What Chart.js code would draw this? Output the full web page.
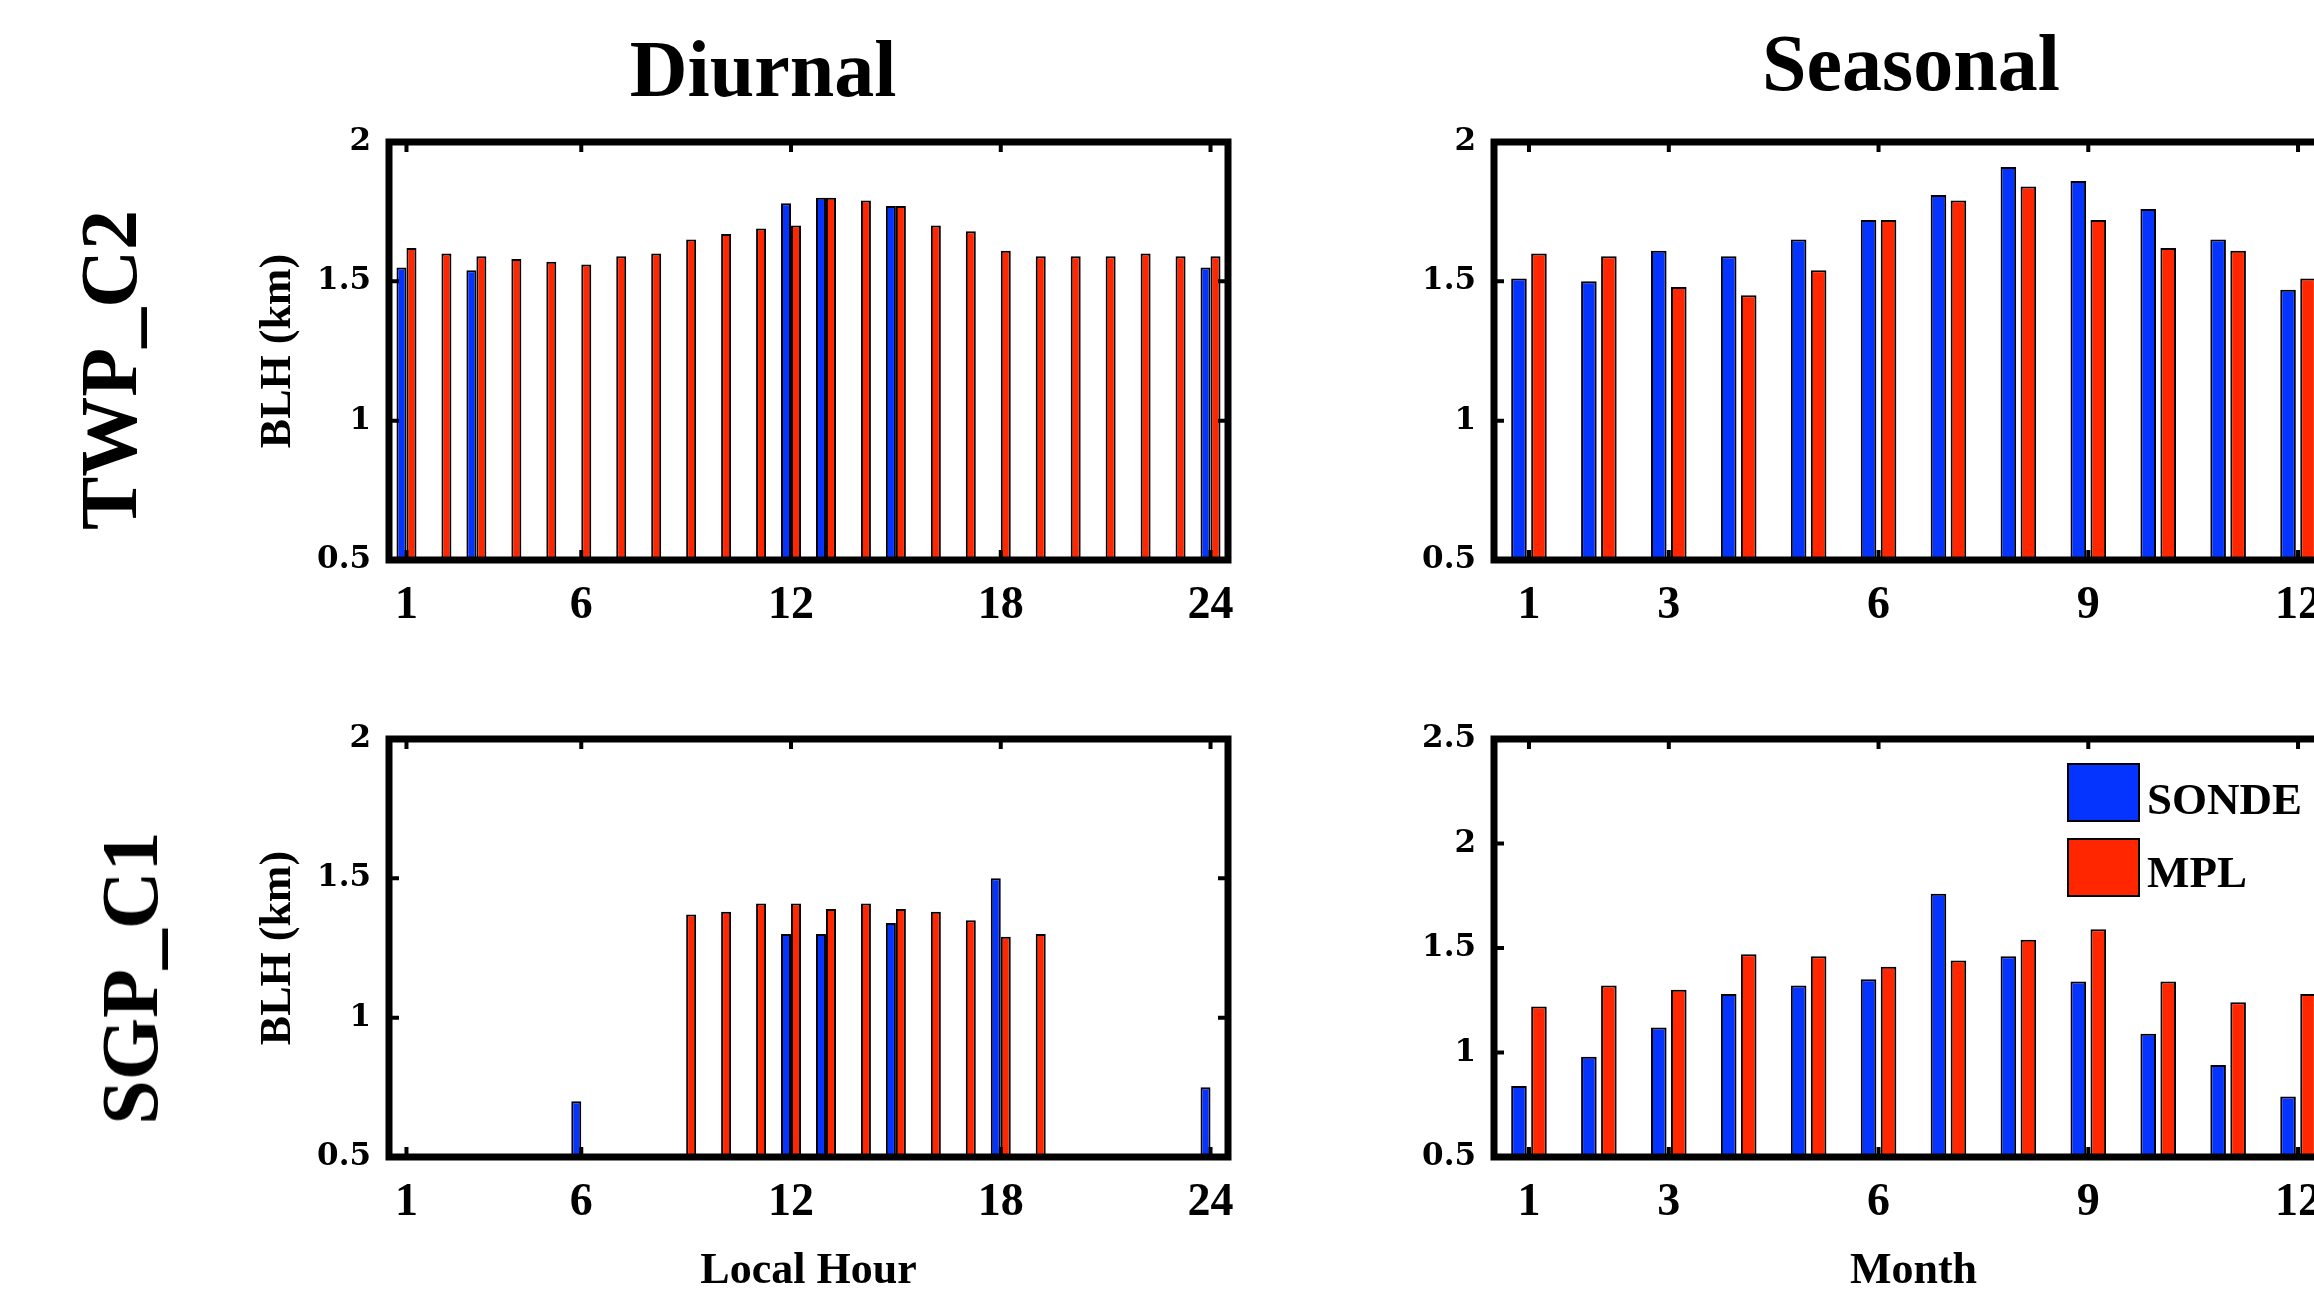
<!DOCTYPE html>
<html>
<head>
<meta charset="utf-8">
<script src="https://cdn.jsdelivr.net/npm/chart.js@4.4.1/dist/chart.umd.min.js"></script>
<style>
  html, body { margin: 0; padding: 0; background: #fff; overflow: hidden; width: 2314px; height: 1296px; position: relative; }
  canvas { position: absolute; left: 0; top: 0; }
  .lbl { position: absolute; font-family: 'Liberation Serif', 'Times New Roman', serif; font-weight: bold; line-height: 1; white-space: nowrap; color: #000; }
  .colTitle { font-size: 80px; transform: translateX(-50%); }
  .rowTitle { font-size: 80px; transform: translate(-50%, -50%) rotate(-90deg); }
  .legBox { position: absolute; width: 73px; height: 59px; border: 2px solid #000; box-sizing: border-box; }
  .legText { font-size: 45px; }
</style>
</head>
<body>
<canvas id="twpDiurnal" width="2400" height="1300"></canvas>
<canvas id="twpSeasonal" width="2400" height="1300"></canvas>
<canvas id="sgpDiurnal" width="2400" height="1300"></canvas>
<canvas id="sgpSeasonal" width="2400" height="1300"></canvas>

<div class="lbl colTitle" style="left:763px; top:29px;">Diurnal</div>
<div class="lbl colTitle" style="left:1911px; top:23px;">Seasonal</div>
<div class="lbl rowTitle" style="left:109px; top:370px;">TWP_C2</div>
<div class="lbl rowTitle" style="left:130px; top:978px;">SGP_C1</div>
<div id="legend"></div>

<script>
// categorias y ticks
const hours = [1, 2, 3, 4, 5, 6, 7, 8, 9, 10, 11, 12, 13, 14, 15, 16, 17, 18, 19, 20, 21, 22, 23, 24];
const months = [1, 2, 3, 4, 5, 6, 7, 8, 9, 10, 11, 12];
const hourTicks = [1, 6, 12, 18, 24];
const monthTicks = [1, 3, 6, 9, 12];

const seriesNames = ['SONDE', 'MPL'];
const seriesColors = ['#0533ff', '#ff2600'];

// TWP_C2 - ciclo diurno (km)
const twpHourSonde = [1.55, null, 1.54, null, null, null, null, null, null, null, null, 1.78,
                      1.80, null, 1.77, null, null, null, null, null, null, null, null, 1.55];
const twpHourMpl = [1.62, 1.60, 1.59, 1.58, 1.57, 1.56, 1.59, 1.60, 1.65, 1.67, 1.69, 1.70,
                    1.80, 1.79, 1.77, 1.70, 1.68, 1.61, 1.59, 1.59, 1.59, 1.60, 1.59, 1.59];

// TWP_C2 - ciclo estacional
const twpMonthSonde = [1.51, 1.50, 1.61, 1.59, 1.65, 1.72, 1.81, 1.91, 1.86, 1.76, 1.65, 1.47];
const twpMonthMpl = [1.60, 1.59, 1.48, 1.45, 1.54, 1.72, 1.79, 1.84, 1.72, 1.62, 1.61, 1.51];

// SGP_C1 - ciclo diurno
const sgpHourSonde = [null, null, null, null, null, 0.70, null, null, null, null, null, 1.30,
                      1.30, null, 1.34, null, null, 1.50, null, null, null, null, null, 0.75];
const sgpHourMpl = [null, null, null, null, null, null, null, null, 1.37, 1.38, 1.41, 1.41,
                    1.39, 1.41, 1.39, 1.38, 1.35, 1.29, 1.30, null, null, null, null, null];

// SGP_C1 - ciclo estacional
const sgpMonthSonde = [0.84, 0.98, 1.12, 1.28, 1.32, 1.35, 1.76, 1.46, 1.34, 1.09, 0.94, 0.79];
const sgpMonthMpl = [1.22, 1.32, 1.30, 1.47, 1.46, 1.41, 1.44, 1.54, 1.59, 1.34, 1.24, 1.28];

const serif = "'Liberation Serif', 'Times New Roman', serif";

// caja negra gruesa con ticks hacia adentro (estilo MATLAB)
const boxPlugin = {
    id: 'matlabBox',
    afterDatasetsDraw(chart, args, opts) {
        const ctx = chart.ctx;
        const a = chart.chartArea;
        const xs = chart.scales.x;
        const ys = chart.scales.y;
        ctx.save();
        ctx.strokeStyle = '#000';
        ctx.lineWidth = 4;
        ctx.beginPath();
        opts.xTicks.forEach(function(v) {
            const px = xs.getPixelForValue(xs.getLabels().indexOf(v));
            ctx.moveTo(px, a.bottom); ctx.lineTo(px, a.bottom - 10);
            ctx.moveTo(px, a.top); ctx.lineTo(px, a.top + 10);
        });
        ys.ticks.forEach(function(t) {
            const py = ys.getPixelForValue(t.value);
            ctx.moveTo(a.left, py); ctx.lineTo(a.left + 10, py);
            ctx.moveTo(a.right, py); ctx.lineTo(a.right - 10, py);
        });
        ctx.stroke();
        ctx.lineWidth = 7;
        ctx.strokeRect(a.left, a.top, a.right - a.left, a.bottom - a.top);
        ctx.restore();
    }
};

function makePanel(id, o) {
    return new Chart(document.getElementById(id), {
        type: 'bar',
        data: {
            labels: o.labels,
            datasets: [{
                label: seriesNames[0],
                data: o.sonde,
                backgroundColor: seriesColors[0],
                borderColor: '#000',
                borderWidth: 2,
                categoryPercentage: 0.572,
                barPercentage: o.barPct,
                clip: 0
            }, {
                label: seriesNames[1],
                data: o.mpl,
                backgroundColor: seriesColors[1],
                borderColor: '#000',
                borderWidth: 2,
                categoryPercentage: 0.572,
                barPercentage: o.barPct,
                clip: 0
            }]
        },
        options: {
            responsive: false,
            animation: false,
            layout: { padding: o.pad },
            plugins: {
                legend: { display: false },
                tooltip: { enabled: false },
                matlabBox: { xTicks: o.xTicks }
            },
            scales: {
                x: {
                    grid: { display: false },
                    border: { display: false },
                    ticks: {
                        autoSkip: false,
                        maxRotation: 0,
                        padding: 11,
                        color: '#000',
                        font: { family: serif, size: 46, weight: 'bold' },
                        callback: function(value) {
                            const lab = this.getLabelForValue(value);
                            return o.xTicks.includes(lab) ? String(lab) : '';
                        }
                    },
                    title: {
                        display: !!o.xTitle,
                        text: o.xTitle || '',
                        color: '#000',
                        font: { family: serif, size: 44, weight: 'bold' },
                        padding: { top: 0, bottom: 0 }
                    },
                    afterFit: function(s) { s.height = o.xHeight; }
                },
                y: {
                    min: 0.5,
                    max: o.yMax,
                    grid: { display: false },
                    border: { display: false },
                    ticks: {
                        stepSize: 0.5,
                        padding: 10,
                        color: '#000',
                        font: { family: "'DejaVu Serif', serif", size: 31, weight: 'bold' },
                        callback: function(v) { return String(v); }
                    },
                    title: {
                        display: !!o.yTitle,
                        text: o.yTitle || '',
                        color: '#000',
                        font: { family: serif, size: 44, weight: 'bold' },
                        padding: { top: 0, bottom: 0 }
                    },
                    afterFit: function(s) { s.width = 137; }
                }
            }
        },
        plugins: [boxPlugin]
    });
}

makePanel('twpDiurnal', {
    labels: hours, sonde: twpHourSonde, mpl: twpHourMpl, xTicks: hourTicks,
    yMax: 2, yTitle: 'BLH (km)', barPct: 1.0, xHeight: 80,
    pad: { left: 252, top: 142, right: 1172, bottom: 660 }
});
makePanel('twpSeasonal', {
    labels: months, sonde: twpMonthSonde, mpl: twpMonthMpl, xTicks: monthTicks,
    yMax: 2, barPct: 0.78, xHeight: 80,
    pad: { left: 1357, top: 142, right: 67, bottom: 660 }
});
makePanel('sgpDiurnal', {
    labels: hours, sonde: sgpHourSonde, mpl: sgpHourMpl, xTicks: hourTicks,
    yMax: 2, yTitle: 'BLH (km)', xTitle: 'Local Hour', barPct: 1.0, xHeight: 141,
    pad: { left: 252, top: 739, right: 1172, bottom: 2 }
});
makePanel('sgpSeasonal', {
    labels: months, sonde: sgpMonthSonde, mpl: sgpMonthMpl, xTicks: monthTicks,
    yMax: 2.5, xTitle: 'Month', barPct: 0.78, xHeight: 141,
    pad: { left: 1357, top: 739, right: 67, bottom: 2 }
});

// leyenda (panel SGP estacional)
const legend = document.getElementById('legend');
seriesNames.forEach(function(name, i) {
    const box = document.createElement('div');
    box.className = 'legBox';
    box.style.left = '2067px';
    box.style.top = (763 + i * 75) + 'px';
    box.style.background = seriesColors[i];
    legend.appendChild(box);
    const txt = document.createElement('div');
    txt.className = 'lbl legText';
    txt.style.left = '2147px';
    txt.style.top = (777 + i * 73) + 'px';
    txt.textContent = name;
    legend.appendChild(txt);
});
</script>
</body>
</html>
